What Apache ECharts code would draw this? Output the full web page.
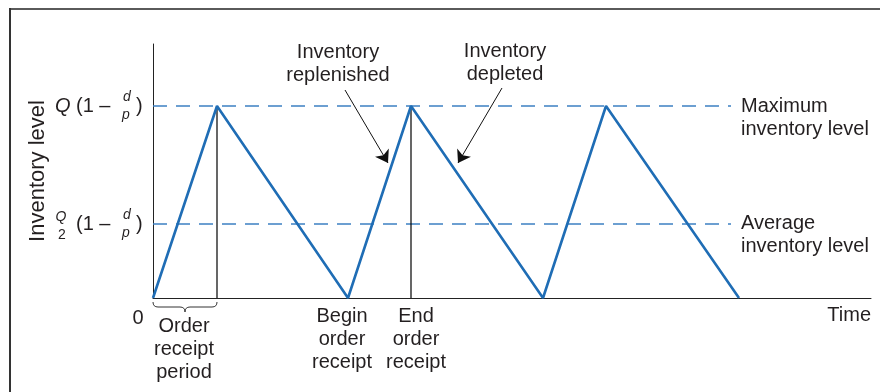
<!DOCTYPE html>
<html lang="en">
<head>
<meta charset="UTF-8">
<title>Inventory level</title>
<script src="https://cdn.jsdelivr.net/npm/echarts@6/dist/echarts.min.js"></script>
<style>
    html, body { margin: 0; padding: 0; background: #fff; }
    #chart { width: 880px; height: 392px; }
</style>
</head>
<body>
<div id="chart"></div>
<script>
    // saw-tooth corners: time and inventory at each corner
    var timePoints = [0, 64, 195, 258, 390, 453, 586];
    var inventory = [0, 192, 0, 192, 0, 192, 0];
    var maxLevel = 192;
    var avgLevel = 74;
    var guideEnd = 578;          // where the dashed guides stop
    var receiptEnds = [64, 258]; // vertical marks at end of order receipt
    var timeMax = 718;
    var levelMax = 254;

    // arrows: [from, to] in data units
    var replenishedArrow = [[192, 208], [235, 135]];
    var depletedArrow = [[349, 210], [305, 135]];

    var font = '"Liberation Sans", Arial, Helvetica, sans-serif';
    var ink = '#231f20';
    var blue = '#1f6db5';

    var chart = echarts.init(document.getElementById('chart'));

    var verticals = receiptEnds.map(function (t) {
        return {
            type: 'line', silent: true, symbol: 'none',
            lineStyle: {color: '#000', width: 1.2},
            data: [[t, 0], [t, maxLevel]]
        };
    });

    chart.setOption({
        animation: false,
        grid: {left: 153, right: 9, top: 44, bottom: 94},
        xAxis: {
            type: 'value', min: 0, max: timeMax,
            axisLine: {lineStyle: {color: '#222', width: 1}},
            axisTick: {show: false}, axisLabel: {show: false}, splitLine: {show: false}
        },
        yAxis: {
            type: 'value', min: 0, max: levelMax,
            name: 'Inventory level', nameLocation: 'middle', nameGap: 104,
            nameTextStyle: {fontFamily: font, fontSize: 22, color: ink},
            axisLine: {show: true, lineStyle: {color: '#222', width: 1}},
            axisTick: {show: false}, axisLabel: {show: false}, splitLine: {show: false}
        },
        series: [
            {
                type: 'line', silent: true, symbol: 'none',
                lineStyle: {color: '#3d80c2', width: 1.3, type: [14, 9]},
                data: [[0, maxLevel], [guideEnd, maxLevel]]
            },
            {
                type: 'line', silent: true, symbol: 'none',
                lineStyle: {color: '#3d80c2', width: 1.3, type: [14, 9]},
                data: [[0, avgLevel], [guideEnd, avgLevel]]
            }
        ].concat(verticals).concat([
            {
                type: 'line', silent: true, symbol: 'none',
                lineStyle: {color: blue, width: 2.6},
                data: timePoints.map(function (t, i) { return [t, inventory[i]]; })
            },
            {
                type: 'lines', coordinateSystem: 'cartesian2d', silent: true,
                symbol: ['none', 'arrow'], symbolSize: 12,
                lineStyle: {color: '#111', width: 1, opacity: 1},
                data: [{coords: replenishedArrow}, {coords: depletedArrow}]
            }
        ])
    });

    function px(t, v) {
        return chart.convertToPixel({gridIndex: 0}, [t, v]);
    }

    function label(x, y, text, align, extra) {
        var style = {
            text: text, x: x, y: y, fill: ink, font: '20px ' + font,
            align: align || 'center', verticalAlign: 'middle', lineHeight: 23
        };
        for (var k in extra) style[k] = extra[k];
        return {type: 'text', silent: true, style: style};
    }

    function curve(x1, y1, cx, cy, x2, y2) {
        return {
            type: 'bezierCurve', silent: true,
            shape: {x1: x1, y1: y1, cpx1: cx, cpy1: cy, x2: x2, y2: y2},
            style: {stroke: '#333', lineWidth: 1, fill: null}
        };
    }

    function seg(x1, y1, x2, y2) {
        return {
            type: 'line', silent: true, shape: {x1: x1, y1: y1, x2: x2, y2: y2},
            style: {stroke: '#333', lineWidth: 1}
        };
    }

    var origin = px(0, 0);
    var axisY = origin[1];
    var yMax = px(0, maxLevel)[1];
    var yAvg = px(0, avgLevel)[1];
    var it = '"Liberation Sans", Arial, sans-serif';

    function dOverP(y) {
        return [
            label(127, y - 9, 'd', 'center', {font: 'italic 14px ' + it}),
            label(126, y + 9, 'p', 'center', {font: 'italic 14px ' + it})
        ];
    }

    // brace under order receipt period
    var brL = origin[0], brR = px(receiptEnds[0], 0)[0], brM = (brL + brR) / 2, bt = axisY + 4;
    var brace = [
        curve(brL, bt, brL, bt + 5, brL + 5, bt + 5),
        seg(brL + 5, bt + 5, brM - 5, bt + 5),
        curve(brM - 5, bt + 5, brM, bt + 5, brM, bt + 10),
        curve(brM, bt + 10, brM, bt + 5, brM + 5, bt + 5),
        seg(brM + 5, bt + 5, brR - 5, bt + 5),
        curve(brR - 5, bt + 5, brR, bt + 5, brR, bt)
    ];

    var graphics = [
        // frame
        {type: 'line', silent: true, shape: {x1: 9, y1: 9, x2: 880, y2: 9}, style: {stroke: '#5a5a5a', lineWidth: 2}},
        {type: 'line', silent: true, shape: {x1: 10, y1: 8, x2: 10, y2: 392}, style: {stroke: '#333', lineWidth: 2}},

        // max level tick label: Q (1 - d/p)
        label(55, yMax, 'Q', 'left', {font: 'italic 20px ' + it}),
        label(76, yMax, '(1 \u2013', 'left'),
        label(136, yMax, ')', 'left'),
        // average level tick label: Q/2 (1 - d/p)
        label(61, yAvg - 7, 'Q', 'center', {font: 'italic 14px ' + it}),
        label(62, yAvg + 11, '2', 'center', {font: '14px ' + it}),
        label(76, yAvg, '(1 \u2013', 'left'),
        label(136, yAvg, ')', 'left'),

        label(origin[0] - 15, axisY + 20, '0', 'center'),
        label(px(timeMax, 0)[0], axisY + 17, 'Time', 'right'),

        // annotations
        label(px(185, 0)[0], px(0, 234)[1], 'Inventory\nreplenished'),
        label(px(352, 0)[0], px(0, 235)[1], 'Inventory\ndepleted'),
        label(px(588, 0)[0], px(0, 180)[1], 'Maximum\ninventory level', 'left'),
        label(px(588, 0)[0], px(0, 63)[1], 'Average\ninventory level', 'left'),

        label(px(31, 0)[0], axisY + 51, 'Order\nreceipt\nperiod'),
        label(px(189, 0)[0], axisY + 41, 'Begin\norder\nreceipt'),
        label(px(263, 0)[0], axisY + 41, 'End\norder\nreceipt')
    ].concat(brace).concat(dOverP(yMax)).concat(dOverP(yAvg));

    chart.setOption({graphic: graphics});
</script>
</body>
</html>
